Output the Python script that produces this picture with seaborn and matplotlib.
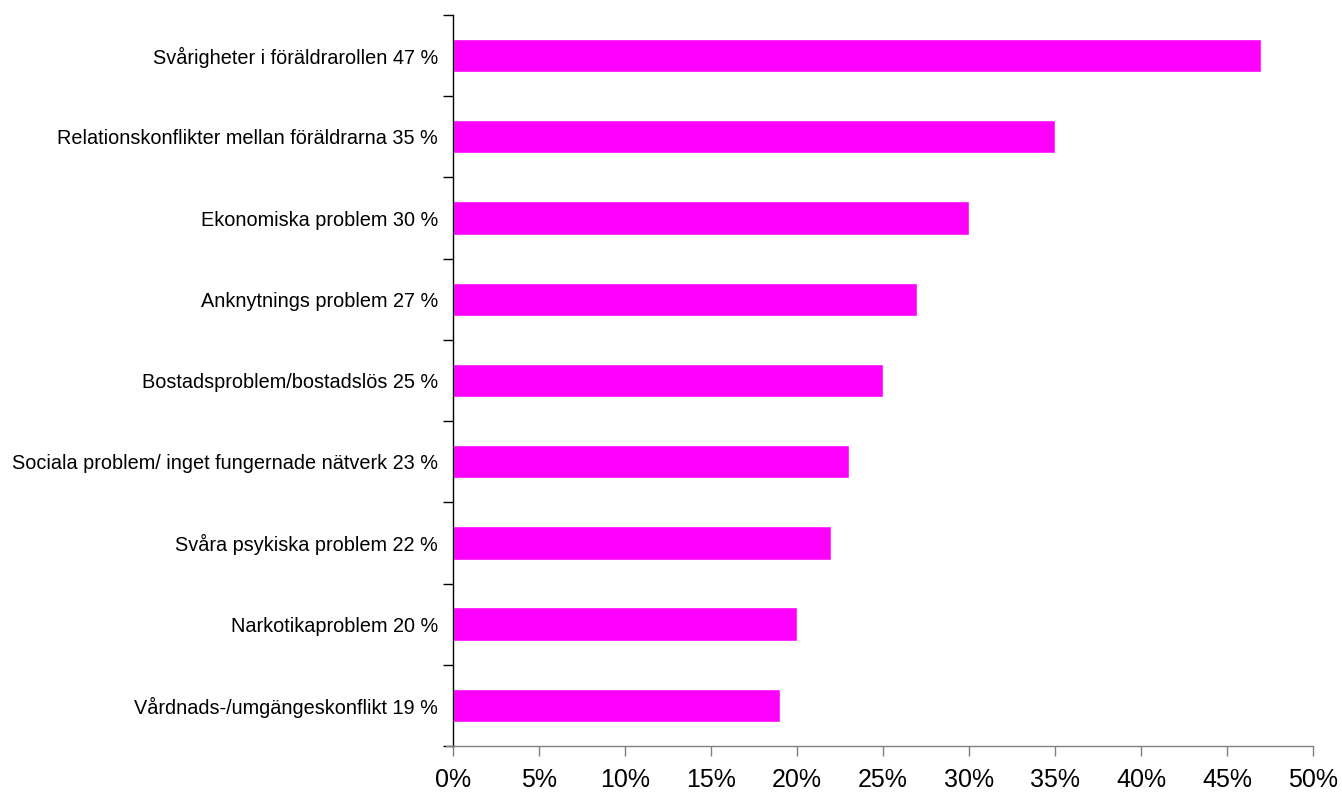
import matplotlib
matplotlib.use("Agg")
import matplotlib.pyplot as plt
import seaborn as sns
import pandas as pd
import numpy as np
from matplotlib.ticker import FuncFormatter, MultipleLocator, FixedLocator

categories = [
    "Svårigheter i föräldrarollen 47 %",
    "Relationskonflikter mellan föräldrarna 35 %",
    "Ekonomiska problem 30 %",
    "Anknytnings problem 27 %",
    "Bostadsproblem/bostadslös 25 %",
    "Sociala problem/ inget fungernade nätverk 23 %",
    "Svåra psykiska problem 22 %",
    "Narkotikaproblem 20 %",
    "Vårdnads-/umgängeskonflikt 19 %",
]
values = [47, 35, 30, 27, 25, 23, 22, 20, 19]

df = pd.DataFrame({"category": categories, "value": values})

sns.set_style("white")
plt.rcParams['font.family'] = ['Liberation Sans', 'DejaVu Sans']
plt.rcParams['text.color'] = 'black'
plt.rcParams['xtick.labelcolor'] = 'black'
plt.rcParams['ytick.labelcolor'] = 'black'

fig = plt.figure(figsize=(13.42, 7.94), dpi=100)
ax = fig.add_axes([0.3376, 0.0605, 0.9784 - 0.3376, 0.9811 - 0.0605])

sns.barplot(data=df, x="value", y="category", orient="h", color="#FF00FF",
            saturation=1, width=0.41, ax=ax)

ax.set_xlim(0, 50)
ax.set_ylim(len(categories) - 0.5, -0.5)
ax.xaxis.set_major_locator(MultipleLocator(5))
ax.xaxis.set_major_formatter(FuncFormatter(lambda v, p: f"{v:.0f}%"))
ax.set_xlabel("")
ax.set_ylabel("")

ax.tick_params(axis="x", which="major", direction="out", length=7, width=1,
               color="#808080", labelsize=18, pad=9, bottom=True,
               labelcolor="black")
ax.tick_params(axis="y", which="major", length=0, labelsize=14.3, pad=11,
               labelcolor="black")
ax.yaxis.set_minor_locator(FixedLocator(np.arange(-0.5, len(categories), 1.0)))
ax.tick_params(axis="y", which="minor", direction="out", length=7, width=1,
               color="black", left=True)

for s in ["top", "right"]:
    ax.spines[s].set_visible(False)
ax.spines["left"].set_color("black")
ax.spines["left"].set_linewidth(1)
ax.spines["bottom"].set_color("#808080")
ax.spines["bottom"].set_linewidth(1)
ax.spines["bottom"].set_bounds(-0.4, 50)

fig.savefig("out.png", dpi=100, facecolor="white")
